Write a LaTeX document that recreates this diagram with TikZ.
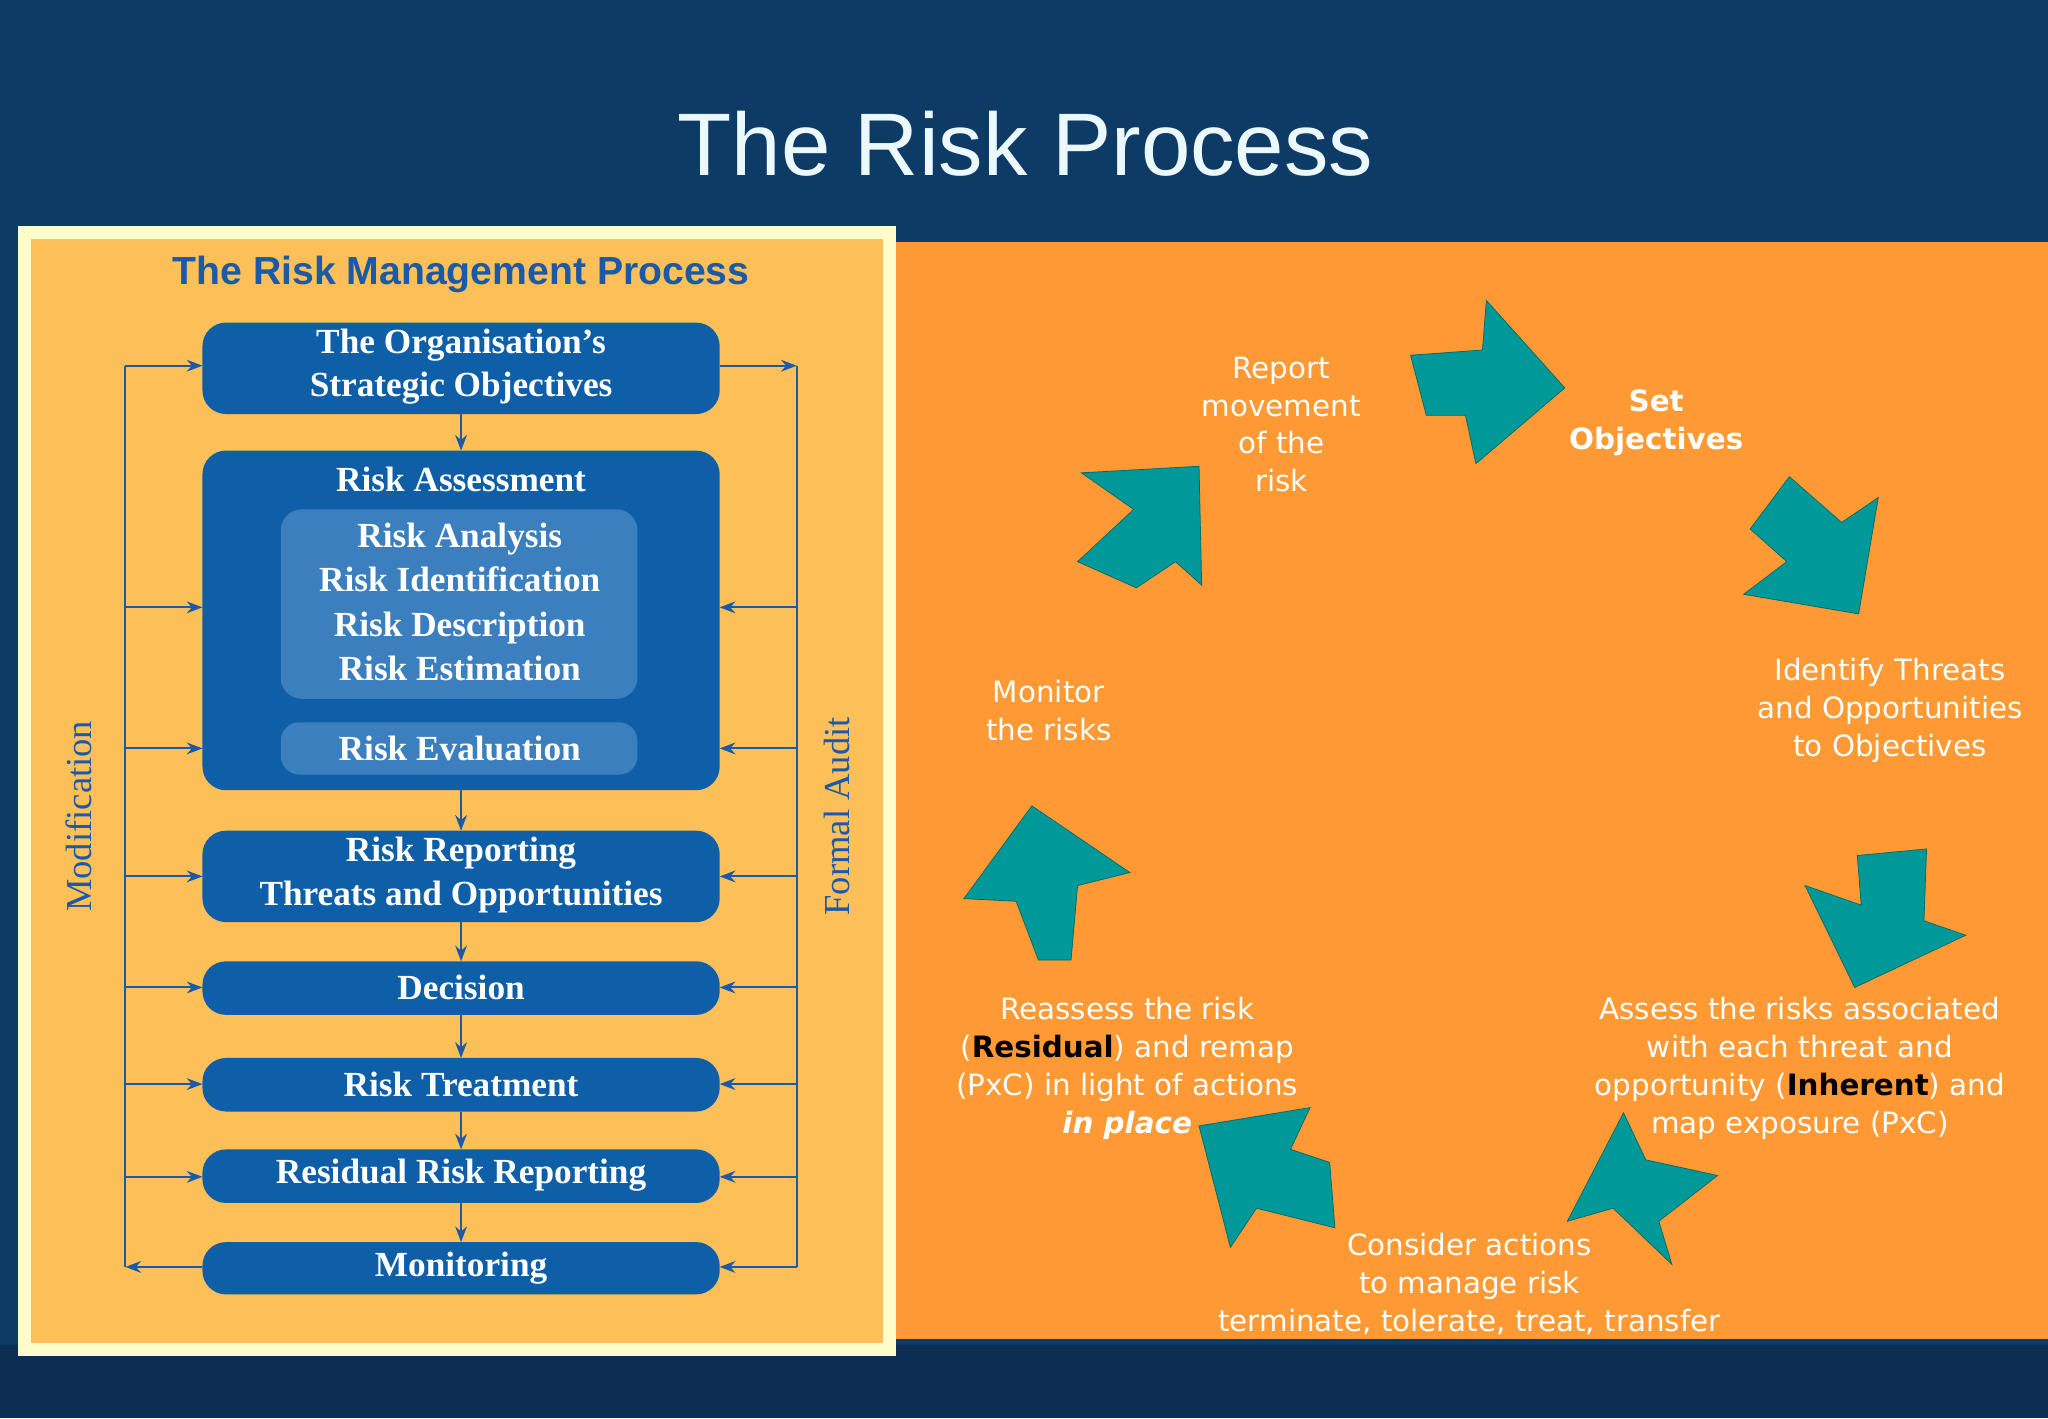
\documentclass[tikz,border=0pt]{standalone}
\usepackage{fontspec}
\setmainfont{DejaVu Sans}
\newfontfamily\ser{Liberation Serif}
\newfontfamily\ars{Liberation Sans}
\usetikzlibrary{arrows.meta}
\definecolor{bgblue}{HTML}{0E3A66}
\definecolor{panel}{HTML}{FDBF57}
\definecolor{orng}{HTML}{FF9933}
\definecolor{boxb}{HTML}{0F5FA8}
\definecolor{inb}{HTML}{3C7FBE}
\definecolor{hb}{HTML}{1A5AA8}
\definecolor{teal}{HTML}{009999}
\tikzset{
 pbox/.style={fill=boxb,rounded corners=18pt,draw=none},
 ibox/.style={fill=inb,rounded corners=16pt,draw=none},
 btxt/.style={text=white,font=\ser\bfseries\fontsize{27}{33}\selectfont,align=center},
 ln/.style={draw=hb,line width=1.6pt},
 ar/.style={ln,-{Stealth[length=12pt,width=9pt]}},
 rtxt/.style={text=white,font=\fontsize{22.5}{29}\selectfont,align=center},
 tarrow/.style={fill=teal,draw=teal!70!black,line width=0.6pt},
}
\begin{document}
\begin{tikzpicture}[x=1pt,y=-1pt]
\fill[bgblue] (0,0) rectangle (1568,1086);
\fill[bgblue!80!black] (0,1030) rectangle (1568,1086);
\node (title) [font=\ars\fontsize{68}{80}\selectfont,text=white!92!cyan] at (785,110) {The Risk Process};
% panels
\fill[white!80!yellow] (14,173) rectangle (686,1038);
\fill[panel] (24,183) rectangle (676,1028);
\fill[orng] (686,185) rectangle (1568,1025);
\node (head) [font=\ars\bfseries\fontsize{30}{34}\selectfont,text=hb] at (353,210) {The Risk Management Process};
% boxes
\path[pbox] (155,247) rectangle (551,317);
\node (b1) [btxt] at (353,281) {The Organisation’s\\Strategic Objectives};
\path[pbox] (155,345) rectangle (551,605);
\node (b2) [btxt] at (353,367) {Risk Assessment};
\path[ibox] (215,390) rectangle (488,535);
\node (b2a) [btxt,font=\ser\bfseries\fontsize{27}{34}\selectfont] at (352,461) {Risk Analysis\\Risk Identification\\Risk Description\\Risk Estimation};
\path[ibox,rounded corners=14pt] (215,553) rectangle (488,593);
\node (b2b) [btxt] at (352,573) {Risk Evaluation};
\path[pbox] (155,636) rectangle (551,706);
\node (b3) [btxt,font=\ser\bfseries\fontsize{27}{34}\selectfont] at (353,670) {Risk Reporting\\Threats and Opportunities};
\path[pbox] (155,736) rectangle (551,777);
\node (b4) [btxt] at (353,756) {Decision};
\path[pbox] (155,810) rectangle (551,851);
\node (b5) [btxt] at (353,830) {Risk Treatment};
\path[pbox] (155,880) rectangle (551,921);
\node (b6) [btxt] at (353,900) {Residual Risk Reporting};
\path[pbox] (155,951) rectangle (551,991);
\node (b7) [btxt] at (353,971) {Monitoring};
% down arrows
\coordinate (d1a) at (353,317); \coordinate (d1b) at (353,345);
\coordinate (d2a) at (353,605); \coordinate (d2b) at (353,636);
\coordinate (d3a) at (353,706); \coordinate (d3b) at (353,736);
\coordinate (d4a) at (353,777); \coordinate (d4b) at (353,810);
\coordinate (d5a) at (353,851); \coordinate (d5b) at (353,880);
\coordinate (d6a) at (353,921); \coordinate (d6b) at (353,951);
\foreach \a/\b in {d1a/d1b,d2a/d2b,d3a/d3b,d4a/d4b,d5a/d5b,d6a/d6b} \draw[ar] (\a)--(\b);
% side lines
\coordinate (lt) at (96,280); \coordinate (lb) at (96,970);
\coordinate (rt) at (610,280); \coordinate (rb) at (610,970);
\draw[ln] (lt)--(lb); \draw[ln] (rt)--(rb);
\foreach \y in {280,465,573,671,756,830,901} \draw[ar] (96,\y)--(155,\y);
\foreach \y in {465,573,671,756,830,901,970} \draw[ar] (610,\y)--(551,\y);
\draw[ar] (551,280)--(610,280);
\draw[ar] (155,970)--(96,970);
\node (mod) [rotate=90,font=\ser\fontsize{28}{30}\selectfont,text=hb] at (60,625) {Modification};
\node (aud) [rotate=90,font=\ser\fontsize{28}{30}\selectfont,text=hb] at (641,625) {Formal Audit};
% teal arrows
\fill[tarrow] (1080,272)--(1135,268)--(1138,230)--(1198,297)--(1130,355)--(1122,318)--(1092,318)--cycle;
\fill[tarrow] (1370,365)--(1410,400)--(1438,381)--(1423,470)--(1335,455)--(1368,430)--(1340,405)--cycle;
\fill[tarrow] (1422,655)--(1475,650)--(1473,705)--(1505,716)--(1420,756)--(1382,678)--(1425,693)--cycle;
\fill[tarrow] (1243,852)--(1260,888)--(1315,900)--(1270,935)--(1280,968)--(1235,925)--(1200,935)--cycle;
\fill[tarrow] (1003,848)--(988,880)--(1018,890)--(1022,940)--(962,925)--(942,955)--(918,862)--cycle;
\fill[tarrow] (790,617)--(865,668)--(825,678)--(820,735)--(795,735)--(778,690)--(738,688)--cycle;
\fill[tarrow] (918,357)--(920,448)--(900,430)--(870,450)--(825,430)--(868,390)--(828,362)--cycle;
% texts
\node (t1) [rtxt] at (981,325) {Report\\movement\\of the\\risk};
\node (t2) [rtxt,font=\bfseries\fontsize{22.5}{29}\selectfont] at (1268,324) {Set\\Objectives};
\node (t3) [rtxt] at (1447,544) {Identify Threats\\and Opportunities\\to Objectives};
\node (t4) [rtxt] at (1378,818) {Assess the risks associated\\with each threat and\\opportunity (\textcolor{black}{\bfseries Inherent}) and\\map exposure (PxC)};
\node (t5) [rtxt] at (1125,983) {Consider actions\\to manage risk\\terminate, tolerate, treat, transfer};
\node (t6) [rtxt] at (863,818) {Reassess the risk\\(\textcolor{black}{\bfseries Residual}) and remap\\(PxC) in light of actions\\\textbf{\itshape in place}};
\node (t7) [rtxt] at (803,544) {Monitor\\the risks};
\end{tikzpicture}
\end{document}
